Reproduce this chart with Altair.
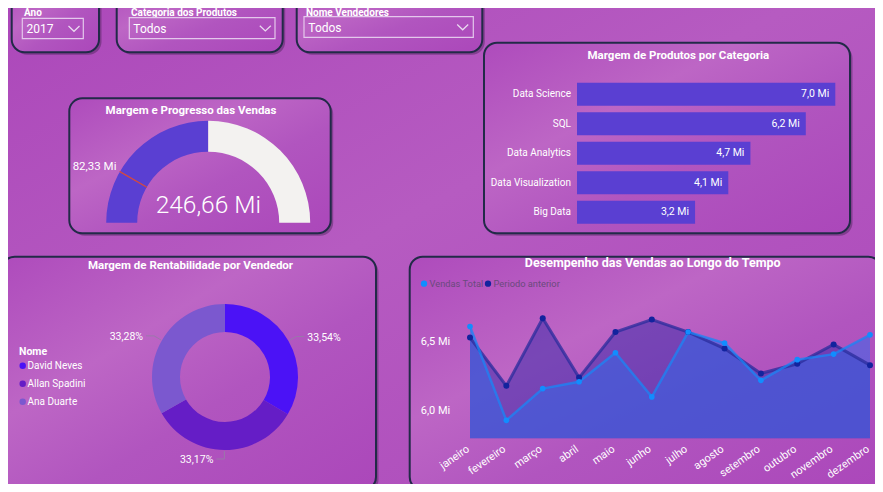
import math
import altair as alt
import pandas as pd
import numpy as np

# ---------------- data ----------------
slicer_titulos = ["Ano", "Categoria dos Produtos", "Nome Vendedores"]
slicer_valores = ["2017", "Todos", "Todos"]

gauge_titulo = "Margem e Progresso das Vendas"
gauge_valor = 246.66
gauge_maximo = 493.32
gauge_meta = 82.33

barras_titulo = "Margem de Produtos por Categoria"
categorias = ["Data Science", "SQL", "Data Analytics", "Data Visualization", "Big Data"]
margem_categoria = [7.0, 6.2, 4.7, 4.1, 3.2]

donut_titulo = "Margem de Rentabilidade por Vendedor"
legenda_titulo = "Nome"
vendedores = ["David Neves", "Allan Spadini", "Ana Duarte"]
rentabilidade = [33.54, 33.17, 33.28]

linha_titulo = "Desempenho das Vendas ao Longo do Tempo"
meses = ["janeiro", "fevereiro", "março", "abril", "maio", "junho",
         "julho", "agosto", "setembro", "outubro", "novembro", "dezembro"]
series = ["Vendas Total", "Periodo anterior"]
vendas_total = [6.61, 5.93, 6.16, 6.21, 6.42, 6.10, 6.57, 6.49, 6.22, 6.37, 6.41, 6.55]
periodo_anterior = [6.53, 6.18, 6.67, 6.24, 6.57, 6.66, 6.57, 6.45, 6.27, 6.34, 6.48, 6.33]
y_ticks = [6.0, 6.5]
y_tick_labels = ["6,0 Mi", "6,5 Mi"]

# ---------------- layout / style ----------------
W, H = 867, 476
OFF = 8


def c(v):
    return v - OFF


FONT = "Roboto"
BG = "#ae4dbc"
BORDER = "#222a48"
WHITE = "#ffffff"
BAR = "#5a3fd2"
GAUGE_REST = "#f3f2f0"
DONUT_COLORS = ["#4b12f6", "#651dc6", "#7b58cf"]
SERIE_POINT = ["#118dff", "#12239e"]

# panels (page coordinates): x, y, x2, y2
panel_boxes = [
    (11.7, -20, 99.0, 52.3),
    (116.7, -20, 282.7, 52.3),
    (296.7, -20, 482.3, 52.3),
    (69.3, 98.3, 330.7, 233.3),
    (484.0, 42.7, 850.0, 233.3),
    (1.7, 256.7, 376.0, 490.0),
    (409.7, 256.7, 881.3, 490.0),
]
panels = pd.DataFrame([dict(x=c(a), y=c(b), x2=c(cc), y2=c(d)) for a, b, cc, d in panel_boxes])
shadows = panels.copy()
for k in ["x", "x2", "y", "y2"]:
    shadows[k] = shadows[k] + 2.5


def XY(df_x="x", df_y="y"):
    return dict(x=alt.X(f"{df_x}:Q", scale=None, axis=None), y=alt.Y(f"{df_y}:Q", scale=None, axis=None))


def rects(df, **mark):
    return alt.Chart(df).mark_rect(**mark).encode(
        x=alt.X("x:Q", scale=None, axis=None), x2="x2:Q",
        y=alt.Y("y:Q", scale=None, axis=None), y2="y2:Q")


def texts(df, size, weight="normal", color=WHITE, align="left", baseline="middle", font=FONT, **kw):
    return alt.Chart(df).mark_text(fontSize=size, fontWeight=weight, color=color, align=align,
                                   baseline=baseline, font=font, **kw).encode(
        text="t:N", **XY())


grad_bg = alt.Gradient(gradient="linear", x1=0, y1=0, x2=1, y2=1, stops=[
    alt.GradientStop(color="#ac48ba", offset=0),
    alt.GradientStop(color="#b65bc1", offset=0.45),
    alt.GradientStop(color="#ab47ba", offset=1)])
grad_panel = alt.Gradient(gradient="linear", x1=0, y1=0, x2=1, y2=1, stops=[
    alt.GradientStop(color="#ae4bbc", offset=0),
    alt.GradientStop(color="#bd66c5", offset=0.35),
    alt.GradientStop(color="#b155bf", offset=0.6),
    alt.GradientStop(color="#ab47ba", offset=1)])

layers = []
full = pd.DataFrame([dict(x=0, y=0, x2=W, y2=H)])
layers.append(rects(full, fill=grad_bg))
layers.append(rects(shadows, cornerRadius=13, fill="#2a1838", opacity=0.35))
layers.append(rects(panels, cornerRadius=13, fill=grad_panel, stroke=BORDER, strokeWidth=2))

# ---------------- slicers ----------------
slicer_title_pos = [(24, 12.5), (131, 12.5), (306, 12.5)]
slicer_box = [(22.3, 18.3, 83.3, 38.7), (129.3, 17.7, 275.0, 38.7), (304.0, 16.7, 473.3, 37.3)]
slicer_text_x = [26.5, 133.3, 308.3]
chev_x = [74.0, 265.3, 462.7]

df_st = pd.DataFrame([dict(t=t, x=c(p[0]), y=c(p[1])) for t, p in zip(slicer_titulos, slicer_title_pos)])
layers.append(texts(df_st, 10, weight="bold"))
df_sb = pd.DataFrame([dict(x=c(a), y=c(b), x2=c(cc), y2=c(d)) for a, b, cc, d in slicer_box])
layers.append(rects(df_sb, filled=False, color="#e4c8ec", strokeWidth=1.2))
df_sv = pd.DataFrame([dict(t=t, x=c(xx), y=c((b[1] + b[3]) / 2 + 0.5)) for t, xx, b in zip(slicer_valores, slicer_text_x, slicer_box)])
layers.append(texts(df_sv, 12))
chev_rows = []
for i, (cx_, b) in enumerate(zip(chev_x, slicer_box)):
    cy_ = (b[1] + b[3]) / 2
    for j, (dx, dy) in enumerate([(-5.5, -2.5), (0, 2.8), (5.5, -2.5)]):
        chev_rows.append(dict(id=i, o=j, x=c(cx_ + dx), y=c(cy_ + dy)))
layers.append(alt.Chart(pd.DataFrame(chev_rows)).mark_line(color="#eadcf0", strokeWidth=1.2).encode(
    detail="id:N", order="o:Q", **XY()))

# ---------------- titles ----------------
titles = pd.DataFrame([
    dict(t=gauge_titulo, x=c(191), y=c(110.7)),
    dict(t=barras_titulo, x=c(678.3), y=c(56)),
    dict(t=donut_titulo, x=c(190.5), y=c(266)),
])
layers.append(texts(titles, 11.5, weight="bold", align="center"))
layers.append(texts(pd.DataFrame([dict(t=linha_titulo, x=c(652.7), y=c(262.5))]), 12.5, weight="bold", align="center"))

# ---------------- gauge ----------------
gcx, gcy = c(208.2), c(222.7)
theta_scale = alt.Scale(domain=[0, gauge_maximo], range=[1.5 * math.pi, 2.5 * math.pi])
df_g = pd.DataFrame({"ini": [0, gauge_valor], "fim": [gauge_valor, gauge_maximo], "parte": ["valor", "resto"]})
g_arc = alt.Chart(df_g).mark_arc(outerRadius=102, innerRadius=71).encode(
    theta=alt.Theta("ini:Q", scale=theta_scale, stack=False),
    theta2="fim:Q",
    color=alt.Color("parte:N", scale=alt.Scale(domain=["valor", "resto"], range=[BAR, GAUGE_REST]), legend=None),
    x=alt.value(gcx), y=alt.value(gcy))
df_meta = pd.DataFrame({"ini": [gauge_meta - 0.45], "fim": [gauge_meta + 0.45], "meta": [gauge_meta],
                        "t": [f"{gauge_meta:.2f}".replace(".", ",") + " Mi"]})
g_meta = alt.Chart(df_meta).mark_arc(outerRadius=102, innerRadius=71, color="#d84a3a",
                                     stroke="#d84a3a", strokeWidth=0.8).encode(
    theta=alt.Theta("ini:Q", scale=theta_scale, stack=False), theta2="fim:Q",
    x=alt.value(gcx), y=alt.value(gcy))
g_lab = alt.Chart(df_meta).mark_text(radius=106, align="right", baseline="middle", dy=-3, fontSize=11.5,
                                    font=FONT, color=WHITE).encode(
    theta=alt.Theta("meta:Q", scale=theta_scale, stack=False), text="t:N",
    x=alt.value(gcx), y=alt.value(gcy))
layers.append(alt.layer(g_arc, g_meta, g_lab))
df_gv = pd.DataFrame([dict(t=f"{gauge_valor:.2f}".replace(".", ",") + " Mi", x=c(208.3), y=c(213.3))])
layers.append(texts(df_gv, 24.5, weight=300, align="center", baseline="alphabetic"))

# ---------------- bars ----------------
df_bar = pd.DataFrame({"cat": categorias, "v": margem_categoria,
                       "lab": [f"{v:.1f}".replace(".", ",") + " Mi" for v in margem_categoria]})
bx = alt.Scale(domain=[0, 7.0], range=[c(577), c(835.3)], nice=False, zero=True)
by = alt.Scale(domain=categorias, range=[c(79.4), c(227.1)], paddingInner=0.22, paddingOuter=0.11)
b_base = alt.Chart(df_bar)
b_bars = b_base.mark_bar(color=BAR).encode(
    x=alt.X("v:Q", scale=bx, axis=None), y=alt.Y("cat:N", scale=by, axis=None, sort=categorias))
b_cat = b_base.mark_text(align="right", baseline="middle", fontSize=10, font=FONT, color=WHITE).encode(
    x=alt.value(c(571)), y=alt.Y("cat:N", scale=by, axis=None, sort=categorias), text="cat:N")
b_val = b_base.mark_text(align="right", baseline="middle", dx=-6, fontSize=10.5, font=FONT, color=WHITE).encode(
    x=alt.X("v:Q", scale=bx, axis=None), y=alt.Y("cat:N", scale=by, axis=None, sort=categorias), text="lab:N")
layers.append(alt.layer(b_bars, b_cat, b_val))

# ---------------- donut ----------------
dcx, dcy = c(225), c(377)
df_d = pd.DataFrame({"nome": vendedores, "pct": rentabilidade, "ordem": list(range(len(vendedores)))})
d_arc = alt.Chart(df_d).mark_arc(innerRadius=45, outerRadius=73).encode(
    theta=alt.Theta("pct:Q", stack=True), order=alt.Order("ordem:Q"),
    color=alt.Color("nome:N", scale=alt.Scale(domain=vendedores, range=DONUT_COLORS), legend=None),
    x=alt.value(dcx), y=alt.value(dcy))
layers.append(d_arc)

vals = np.array(rentabilidade)
cum = np.cumsum(vals) / vals.sum()
mid = (cum - vals / vals.sum() / 2) * 2 * math.pi
lead_rows, lab_rows = [], []
for i, a in enumerate(mid):
    s, co = math.sin(a), math.cos(a)
    side = 1 if s > 0.05 else -1
    p1 = (dcx + 74 * s, dcy - 74 * co)
    p2 = (dcx + 82 * s, dcy - 82 * co)
    p3 = (p2[0] + 8 * side, p2[1])
    for j, p in enumerate([p1, p2, p3]):
        lead_rows.append(dict(id=i, o=j, x=p[0], y=p[1]))
    lab_rows.append(dict(t=f"{vals[i]:.2f}".replace(".", ",") + "%", x=p3[0] + 3 * side, y=p3[1] + 1.5,
                         al="left" if side > 0 else "right"))
layers.append(alt.Chart(pd.DataFrame(lead_rows)).mark_line(color="#9a78aa", strokeWidth=1).encode(
    detail="id:N", order="o:Q", **XY()))
df_lab = pd.DataFrame(lab_rows)
layers.append(texts(df_lab[df_lab.al == "left"], 10.5, align="left"))
layers.append(texts(df_lab[df_lab.al == "right"], 10.5, align="right"))

# donut legend
layers.append(texts(pd.DataFrame([dict(t=legenda_titulo, x=c(19), y=c(352))]), 10.5, weight="bold"))
df_leg = pd.DataFrame({"nome": vendedores, "x": c(22.7), "tx": c(27.5),
                       "y": [c(365.7 + 18 * i) for i in range(len(vendedores))]})
layers.append(alt.Chart(df_leg).mark_circle(size=42, opacity=1).encode(
    color=alt.Color("nome:N", scale=alt.Scale(domain=vendedores, range=DONUT_COLORS), legend=None), **XY()))
layers.append(alt.Chart(df_leg).mark_text(fontSize=10, font=FONT, color=WHITE, align="left", baseline="middle").encode(
    text="nome:N", **XY("tx", "y")))

# ---------------- line / area chart ----------------
lx = alt.Scale(type="point", domain=meses, range=[c(470), c(870)], padding=0)
ly = alt.Scale(domain=[5.8, 6.8], range=[c(438.3), c(300.3)], zero=False, nice=False)
df_l = pd.DataFrame({"mes": meses * 2, "v": vendas_total + periodo_anterior,
                     "serie": [series[0]] * len(meses) + [series[1]] * len(meses)})
enc = dict(x=alt.X("mes:N", scale=lx, axis=None, sort=meses), y=alt.Y("v:Q", scale=ly, axis=None))
l_base = alt.Chart(df_l)
area_p = l_base.transform_filter(alt.datum.serie == series[1]).mark_area(color="#3427a8", opacity=0.5).encode(
    y2=alt.datum(5.8), **enc)
area_v = l_base.transform_filter(alt.datum.serie == series[0]).mark_area(color="#2c69ee", opacity=0.5).encode(
    y2=alt.datum(5.8), **enc)
line_p = l_base.transform_filter(alt.datum.serie == series[1]).mark_line(color="#2a2c9c", opacity=0.75, strokeWidth=3).encode(**enc)
line_v = l_base.transform_filter(alt.datum.serie == series[0]).mark_line(color="#1a86f5", opacity=0.75, strokeWidth=2.5).encode(**enc)
pt_p = l_base.transform_filter(alt.datum.serie == series[1]).mark_circle(color=SERIE_POINT[1], opacity=1, size=36).encode(**enc)
pt_v = l_base.transform_filter(alt.datum.serie == series[0]).mark_circle(color=SERIE_POINT[0], opacity=1, size=32).encode(**enc)
df_yt = pd.DataFrame({"v": y_ticks, "t": y_tick_labels})
y_lab = alt.Chart(df_yt).mark_text(align="left", baseline="middle", fontSize=11, font=FONT, color=WHITE).encode(
    x=alt.value(c(420.7)), y=alt.Y("v:Q", scale=ly, axis=None), text="t:N")
df_m = pd.DataFrame({"mes": meses})
x_lab = alt.Chart(df_m).mark_text(align="right", baseline="middle", angle=325, fontSize=11, font=FONT,
                                  color=WHITE, dx=-2).encode(
    x=alt.X("mes:N", scale=lx, axis=None, sort=meses), y=alt.value(c(447)), text="mes:N")
layers.append(alt.layer(area_p, area_v, line_p, line_v, pt_p, pt_v, y_lab, x_lab))

# line legend
df_ll = pd.DataFrame({"serie": series, "x": [c(424), c(488)], "tx": [c(429.5), c(493.5)], "y": c(283.7)})
layers.append(alt.Chart(df_ll).mark_circle(size=40, opacity=1).encode(
    color=alt.Color("serie:N", scale=alt.Scale(domain=series, range=SERIE_POINT), legend=None), **XY()))
layers.append(alt.Chart(df_ll).mark_text(fontSize=9.3, font=FONT, color="#6a4a7c", align="left", baseline="middle").encode(
    text="serie:N", **XY("tx", "y")))

chart = alt.layer(*layers).properties(
    width=W, height=H, padding=0, autosize=alt.AutoSizeParams(type="none"), background=BG
).resolve_scale(
    x="independent", y="independent", color="independent", theta="independent"
).configure_view(stroke=None)

chart.save("out.html", embed_options={"renderer": "svg", "actions": False})
